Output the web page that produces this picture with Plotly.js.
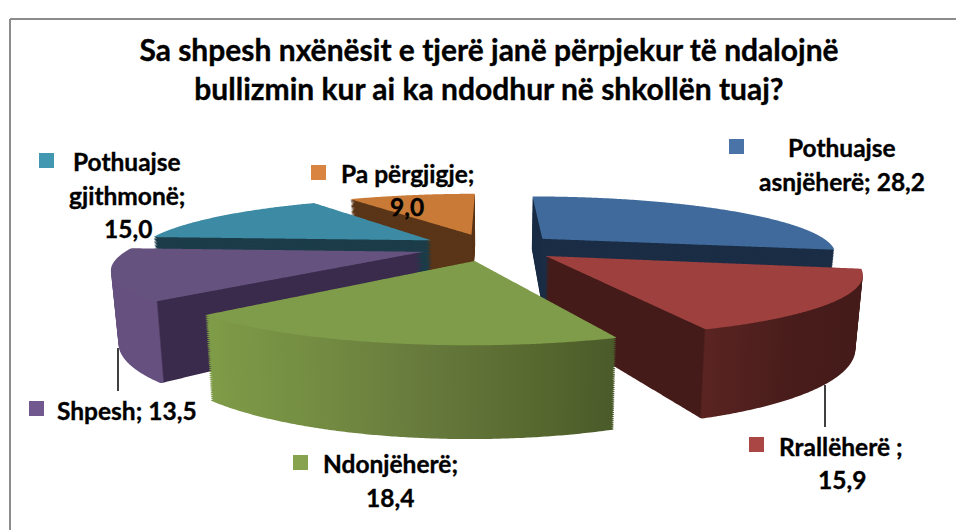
<!DOCTYPE html>
<html>
<head>
<meta charset="utf-8">
<script src="https://cdn.plot.ly/plotly-3.0.1.min.js"></script>
<style>
html,body{margin:0;padding:0;background:#fff}#chart{width:956px;height:530px}
.annotation-text,.gtitle{stroke:#000;stroke-width:.35px}
</style>
</head>
<body>
<div id="chart"></div>
<script>
// ---------- data ----------
const categories = ["Pothuajse asnjëherë", "Rrallëherë", "Ndonjëherë", "Shpesh", "Pothuajse gjithmonë", "Pa përgjigje"];
const values = [28.2, 15.9, 18.4, 13.5, 15.0, 9.0];
const topColors = ["#3f6a9b", "#9e403e", "#7f9c4a", "#66527f", "#3c8aa3", "#c97a36"];
const sideColors = ["#1a2d45", "#451b19", "#6b7e3e", "#3a2a4b", "#1b3c48", "#5a3518"];
const keyColors = ["#4a74a8", "#aa4644", "#87a350", "#71588f", "#4298b0", "#d98440"];
const titleText = "Sa shpesh nxënësit e tjerë janë përpjekur të ndalojnë<br>bullizmin kur ai ka ndodhur në shkollën tuaj?";
const labelLines = [
  [["Pothuajse", 842, 148], ["asnjëherë; 28,2", 842, 182]],
  [["Rrallëherë ;", 841, 446], ["15,9", 842, 479]],
  [["Ndonjëherë;", 390, 463], ["18,4", 390, 497]],
  [["Shpesh; 13,5", 127, 410]],
  [["Pothuajse", 127, 162], ["gjithmonë;", 127, 195], ["15,0", 128, 228]],
  [["Pa përgjigje;", 407, 173], ["9,0", 407, 206]]
];
const keyBoxes = [[729, 139], [749, 437], [293, 455], [29, 401], [39, 153], [311, 165]];
const leaders = [[825, 385, 427], [118, 348, 391]];
const explode = 0.24;
// ---------- view of the tilted pie ----------
const view = {cx: 490, cy: 247, a: 292, b: 56, k: 0.24, h: 66, taper: 0.02};
const layers = 44;

const W = 956, H = 530;
const px = x => x / W, py = y => 1 - y / H;
const FONT = "Lato, Carlito, 'Open Sans', sans-serif";

const traces = [];
for (let i = layers; i >= 0; i--) {
  traces.push({
    type: "pie", labels: categories, values: values, sort: false, direction: "clockwise",
    rotation: 0, pull: explode, textinfo: "none", hoverinfo: "skip", showlegend: false,
    marker: {colors: i === 0 ? topColors : sideColors, line: {width: 0}},
    domain: {x: [0, 1], y: [0, 1]}
  });
}

const annotations = [];
labelLines.forEach(lines => lines.forEach(l => annotations.push({
  text: "<b>" + l[0] + "</b>", x: px(l[1]), y: py(l[2]), xref: "paper", yref: "paper",
  xanchor: "center", yanchor: "middle", showarrow: false,
  font: {family: FONT, size: 24.5, color: "#000"}
})));

const shapes = [
  {type: "line", xref: "paper", yref: "paper", x0: px(10), x1: px(10), y0: py(19), y1: py(530), line: {color: "#8c8c8c", width: 2}},
  {type: "line", xref: "paper", yref: "paper", x0: px(10), x1: px(956), y0: py(19), y1: py(19), line: {color: "#8c8c8c", width: 2}}
];
keyBoxes.forEach((b, i) => shapes.push({
  type: "rect", xref: "paper", yref: "paper", x0: px(b[0]), x1: px(b[0] + 15), y0: py(b[1]), y1: py(b[1] + 15),
  fillcolor: keyColors[i], line: {width: 0}
}));
leaders.forEach(l => shapes.push({
  type: "line", xref: "paper", yref: "paper", x0: px(l[0]), x1: px(l[0]), y0: py(l[1]), y1: py(l[2]),
  line: {color: "#000", width: 1.5}
}));

const layout = {
  width: W, height: H, margin: {l: 0, r: 0, t: 0, b: 0},
  paper_bgcolor: "#fff", showlegend: false,
  title: {text: "<b>" + titleText + "</b>", x: 489 / W, xanchor: "center", y: 1 - 61 / H, yanchor: "middle",
          font: {family: FONT, size: 30, color: "#000"}},
  annotations: annotations, shapes: shapes
};

function project(u, v, t) {
  const w = 1 - view.k * v;
  const x = view.a * u / w * (1 - view.taper * t);
  const y = view.b * v / w + view.h * t / w;
  return [view.cx + x, view.cy + y];
}

function addGradient(defs, id, stops) {
  const NS = "http://www.w3.org/2000/svg";
  const g = document.createElementNS(NS, "linearGradient");
  g.setAttribute("id", id);
  stops.forEach(s => {
    const st = document.createElementNS(NS, "stop");
    st.setAttribute("offset", s[0]);
    st.setAttribute("stop-color", s[1]);
    g.appendChild(st);
  });
  defs.appendChild(g);
}

const gd = document.getElementById("chart");
Plotly.newPlot(gd, traces, layout, {staticPlot: true, displayModeBar: false}).then(() => {
  const groups = gd.querySelectorAll(".pielayer .trace");
  const svg = gd.querySelector(".main-svg");
  const NS = "http://www.w3.org/2000/svg";
  const defs = document.createElementNS(NS, "defs");
  svg.insertBefore(defs, svg.firstChild);
  addGradient(defs, "sideRed", [[0, "#451b19"], [0.5, "#451b19"], [0.505, "#5a2422"], [0.8, "#471c1a"], [1, "#451b19"]]);
  addGradient(defs, "sideGreen", [[0, "#7f9c48"], [0.25, "#748d42"], [0.55, "#66793c"], [0.8, "#58692f"], [1, "#4a5a2a"]]);
  addGradient(defs, "sidePurple", [[0, "#66507f"], [0.145, "#66507f"], [0.15, "#3a2a4b"], [1, "#3a2a4b"]]);
  const sideFill = {1: "url(#sideRed)", 2: "url(#sideGreen)", 3: "url(#sidePurple)"};

  let base = null;
  groups.forEach((g, k) => {
    const t = (layers - k) / layers;
    const paths = g.querySelectorAll(".slice path.surface");
    if (!base) {
      const cd = gd.calcdata[k][0];
      base = Array.from(paths).map(p => {
        const L = p.getTotalLength(), n = Math.ceil(L / 1.5), pts = [];
        for (let i = 0; i <= n; i++) {
          const q = p.getPointAtLength(L * i / n);
          pts.push([(q.x - cd.cx) / cd.r, (q.y - cd.cy) / cd.r]);
        }
        return pts;
      });
    }
    paths.forEach((p, i) => {
      const d = base[i].map((q, j) => {
        const s = project(q[0], q[1], t);
        return (j ? "L" : "M") + s[0].toFixed(2) + "," + s[1].toFixed(2);
      }).join("") + "Z";
      p.setAttribute("d", d);
      if (t > 0 && sideFill[i]) p.style.fill = sideFill[i];
    });
  });
});
</script>
</body>
</html>
